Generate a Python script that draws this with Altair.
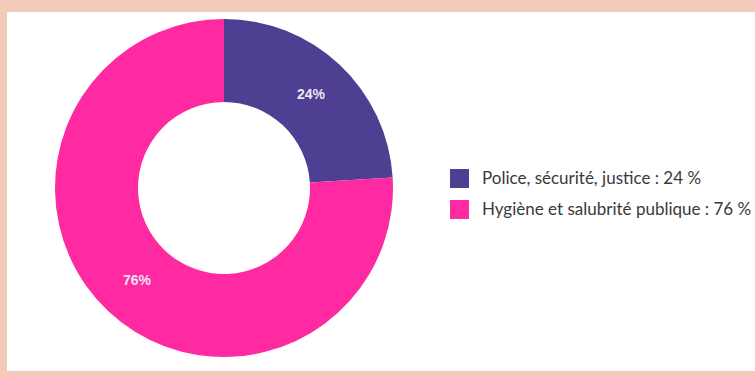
import altair as alt
import pandas as pd

categories = ["Police, sécurité, justice", "Hygiène et salubrité publique"]
values = [24, 76]
slice_labels = ["24%", "76%"]
legend_labels = ["Police, sécurité, justice : 24 %", "Hygiène et salubrité publique : 76 %"]
colors = ["#4f3f92", "#ff2aa2"]

df = pd.DataFrame({
    "category": categories,
    "value": values,
    "label": slice_labels,
    "legend": legend_labels,
    "order": list(range(len(categories))),
})

W, H = 755, 376
CX, CY = 224, 188

panel = alt.Chart(pd.DataFrame({"a": [0]})).mark_rect(color="white").encode(
    x=alt.value(7), x2=alt.value(W), y=alt.value(12), y2=alt.value(371)
)

base = alt.Chart(df).encode(
    theta=alt.Theta("value:Q", stack=True),
    order=alt.Order("order:O"),
)

arcs = base.mark_arc(outerRadius=169, innerRadius=86, stroke=None).encode(
    x=alt.value(CX),
    y=alt.value(CY),
    color=alt.Color(
        "legend:N",
        scale=alt.Scale(domain=legend_labels, range=colors),
        sort=legend_labels,
        legend=alt.Legend(
            title=None,
            orient="none",
            legendX=450,
            legendY=169,
            symbolType="square",
            symbolSize=361,
            symbolStrokeWidth=0,
            labelFont="Lato",
            labelFontSize=17,
            labelColor="#3a3a3a",
            labelOffset=13,
            rowPadding=12,
            padding=0,
            labelLimit=400,
        ),
    ),
)

texts = base.mark_text(
    radius=127, font="Liberation Sans", fontSize=14, fontWeight="bold",
    color="#ece4f2", align="center", baseline="middle"
).encode(
    x=alt.value(CX),
    y=alt.value(CY),
    text="label:N",
)

chart = alt.layer(panel, arcs, texts).properties(
    width=W, height=H, padding=0, autosize=alt.AutoSizeParams(type="none"),
    background="#f3cbbb",
).configure_view(stroke=None)

chart.save("out.html", embed_options={"renderer": "svg", "actions": False})
